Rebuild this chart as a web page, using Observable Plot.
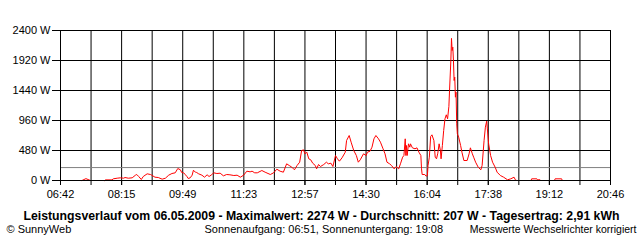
<!DOCTYPE html>
<html><head><meta charset="utf-8">
<script src="https://cdn.jsdelivr.net/npm/d3@7"></script>
<script src="https://cdn.jsdelivr.net/npm/@observablehq/plot@0.6"></script>
<style>body{margin:0;background:#fff}</style>
</head><body><div id="chart"></div>
<script>
const times = ["07:15","07:21","07:28","07:40","07:50","07:51","08:01","08:03","08:09","08:14","08:19","08:21","08:26","08:32","08:37","08:39","08:42","08:46","08:49","08:55","09:00","09:02","09:07","09:12","09:18","09:23","09:28","09:33","09:38","09:42","09:46","09:48","09:51","09:53","09:56","09:58","10:01","10:04","10:06","10:09","10:11","10:14","10:19","10:23","10:27","10:30","10:34","10:37","10:42","10:47","10:52","10:57","11:02","11:08","11:13","11:18","11:23","11:28","11:33","11:36","11:40","11:44","11:51","11:56","12:04","12:09","12:14","12:19","12:24","12:29","12:33","12:37","12:41","12:45","12:49","12:52","12:55","12:57","13:00","13:03","13:06","13:09","13:13","13:15","13:18","13:21","13:26","13:30","13:33","13:37","13:40","13:44","13:47","13:50","13:54","13:59","14:01","14:05","14:08","14:12","14:16","14:19","14:22","14:27","14:31","14:33","14:37","14:40","14:43","14:46","14:50","14:53","14:57","15:00","15:03","15:07","15:10","15:14","15:17","15:21","15:24","15:27","15:29","15:31","15:32","15:33","15:34","15:36","15:38","15:39","15:42","15:46","15:49","15:52","15:55","15:56","15:57","16:01","16:03","16:05","16:06","16:08","16:10","16:12","16:15","16:17","16:19","16:21","16:23","16:25","16:26","16:28","16:30","16:32","16:34","16:36","16:38","16:39","16:41","16:42","16:43","16:44","16:45","16:46","16:47","16:48","16:49","16:50","16:51","16:53","16:56","16:58","17:01","17:06","17:09","17:11","17:14","17:16","17:19","17:23","17:27","17:29","17:32","17:34","17:36","17:37","17:39","17:42","17:45","17:49","17:52","17:57","18:02","18:08","18:13","18:18","18:20","18:22","18:35","18:44","18:45","18:53","18:54","18:58","18:59","19:10","19:20","19:21","19:31","19:32"];
const watts = [0,30,0,null,0,10,10,27,37,43,37,48,37,43,85,96,64,16,64,107,96,85,53,48,21,37,85,112,123,192,171,128,123,100,64,32,43,85,165,133,128,107,85,53,91,64,91,123,112,117,75,96,91,80,85,53,85,149,139,149,123,123,160,133,96,123,181,149,133,267,240,213,171,240,293,480,491,427,453,347,331,277,240,187,256,224,256,293,267,277,224,400,347,309,363,453,640,720,613,480,400,293,331,427,400,453,469,533,667,720,667,613,507,427,293,267,240,187,224,187,277,373,400,667,400,560,400,587,533,587,523,507,523,453,400,187,96,96,69,80,240,373,704,731,640,373,347,437,587,480,347,560,800,987,1051,987,1184,1440,1920,2274,2080,2133,1920,1600,1653,1333,1413,907,747,693,560,453,320,320,427,523,427,373,293,213,171,240,640,853,949,827,587,400,293,213,133,80,53,11,27,53,11,0,null,0,27,27,11,11,0,null,0,27,27,0];
const startTime = "06:42", endTime = "20:46";
const xTickLabels = ["06:42","08:15","09:49","11:23","12:57","14:30","16:04","17:38","19:12","20:46"];
const yTicks = [0,480,960,1440,1920,2400];
const average = 207;
const title = "Leistungsverlauf vom 06.05.2009 - Maximalwert: 2274 W - Durchschnitt: 207 W - Tagesertrag: 2,91 kWh";
const copyright = "© SunnyWeb";
const sunText = "Sonnenaufgang: 06:51, Sonnenuntergang: 19:08";
const noteText = "Messwerte Wechselrichter korrigiert";

const toMin = s => { const [h, m] = s.split(":").map(Number); return h * 60 + m; };
const data = times.map((t, i) => ({t: toMin(t), w: watts[i]}));
const x0 = toMin(startTime), x1 = toMin(endTime);
const gridTimes = d3.range(19).map(i => x0 + i * (x1 - x0) / 18);
const labelTimes = gridTimes.filter((d, i) => i % 2 === 0);

const plot = Plot.plot({
  width: 640, height: 240,
  marginLeft: 60, marginRight: 30, marginTop: 30, marginBottom: 60,
  style: {fontFamily: "'Liberation Sans', Arial, sans-serif", fontSize: "11px", background: "#fff", color: "#000"},
  x: {type: "linear", domain: [x0, x1], label: null},
  y: {domain: [0, 2400], label: null},
  marks: [
    Plot.gridX(gridTimes, {stroke: "#000", strokeOpacity: 1}),
    Plot.gridY(yTicks, {stroke: "#000", strokeOpacity: 1}),
    Plot.ruleY([average], {stroke: "#808080"}),
    Plot.line(data, {x: "t", y: "w", stroke: "#ff0000", strokeWidth: 1}),
    Plot.frame({stroke: "#000"}),
    Plot.axisY(yTicks, {tickSize: 8, tickPadding: 2, tickFormat: d => d + " W", label: null}),
    Plot.axisX(gridTimes, {tickSize: 5, tickFormat: () => "", label: null}),
    Plot.axisX(labelTimes, {tickSize: 5, tickPadding: 5, tickFormat: d => xTickLabels[labelTimes.indexOf(d)], label: null}),
    Plot.text([title], {frameAnchor: "bottom-left", dx: -37, dy: 36, textAnchor: "start", lineAnchor: "middle", fontWeight: "bold", fontSize: 12}),
    Plot.text([copyright], {frameAnchor: "bottom-left", dx: -54, dy: 49, textAnchor: "start", lineAnchor: "middle", fontSize: 11}),
    Plot.text([sunText], {frameAnchor: "bottom-left", dx: 144, dy: 49, textAnchor: "start", lineAnchor: "middle", fontSize: 11}),
    Plot.text([noteText], {frameAnchor: "bottom-right", dx: 26, dy: 49, textAnchor: "end", lineAnchor: "middle", fontSize: 10.5})
  ]
});
const widths = new Map([[title, 596]]);
d3.select(plot).selectAll("text").each(function() {
  const w = widths.get(this.textContent);
  if (w) { this.setAttribute("textLength", w); this.setAttribute("lengthAdjust", "spacingAndGlyphs"); }
});
document.getElementById("chart").append(plot);
</script>
</body></html>
